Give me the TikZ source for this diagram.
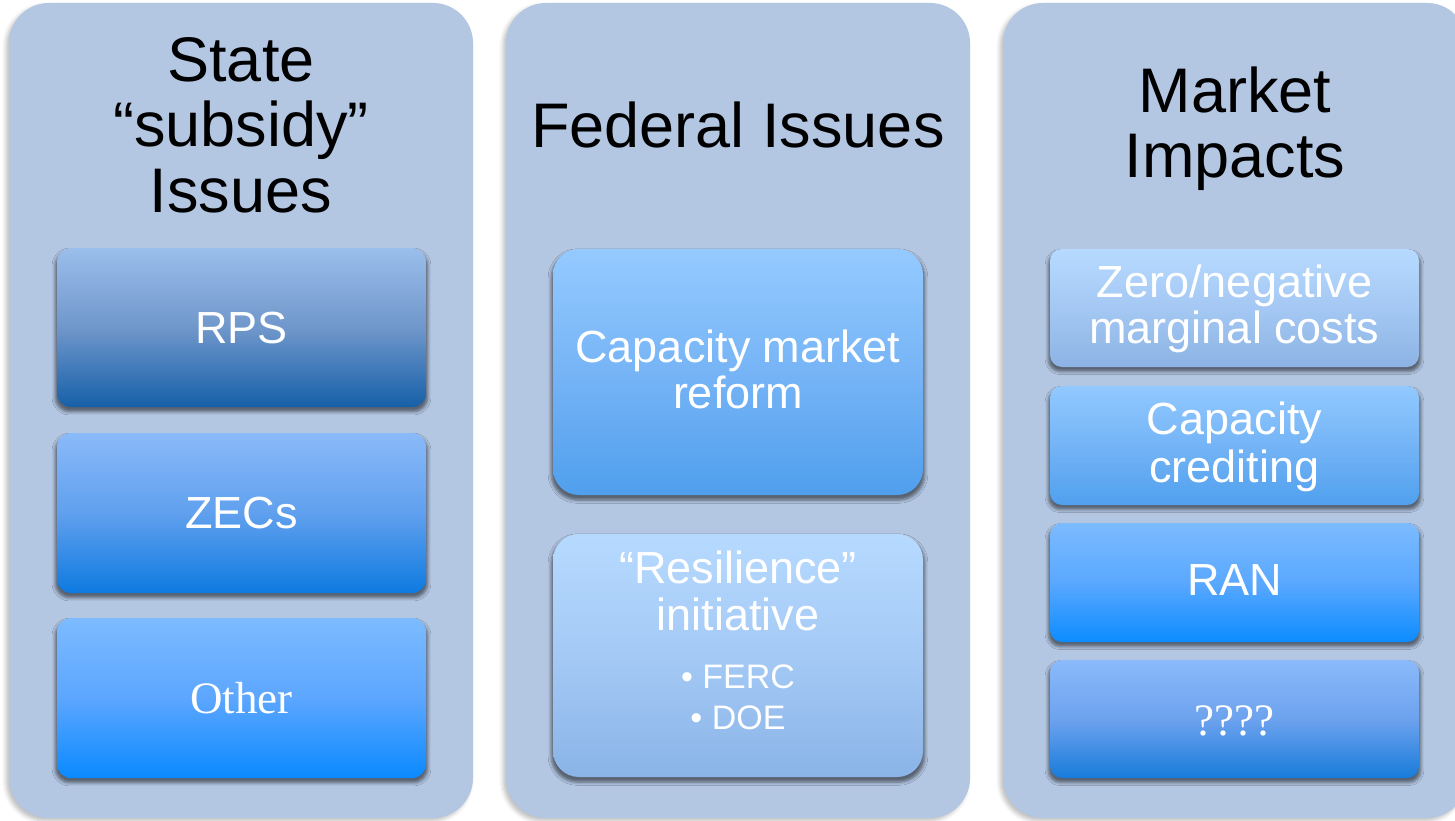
\documentclass[tikz,border=0pt]{standalone}
\usepackage{fontspec}
\setmainfont{Liberation Sans}
\newfontfamily\timesfont{Liberation Serif}
\usetikzlibrary{shadows.blur}

\definecolor{panelfill}{HTML}{B3C6E2}

\begin{document}
\begin{tikzpicture}[x=1pt,y=-1pt,
  panel/.style={fill=panelfill, rounded corners=40pt, inner sep=0pt,
    minimum width=464pt, minimum height=815pt,
    blur shadow={shadow xshift=-3pt, shadow yshift=-3pt, shadow blur radius=4pt, shadow opacity=25}},
  card/.style={inner sep=0pt, minimum width=369pt,
    blur shadow={shadow xshift=0pt, shadow yshift=-4pt, shadow scale=1.01, shadow blur radius=3pt, shadow opacity=50}},
  title/.style={anchor=base, inner sep=0pt, text=black, font=\fontsize{63}{65}\selectfont},
  lbl/.style={anchor=base, inner sep=0pt, text=white, font=\fontsize{45}{46}\selectfont},
  serlbl/.style={lbl, font=\timesfont\fontsize{45}{46}\selectfont},
  bullet/.style={anchor=base, inner sep=0pt, text=white, font=\fontsize{34}{40}\selectfont},
]
\useasboundingbox (0,0) rectangle (1455,821);
\clip (0,0) rectangle (1455,821);

% three panels
\node[panel] (p1) at (241,410.5) {};
\node[panel] (p2) at (738,410.5) {};
\node[panel] (p3) at (1235,410.5) {};

% panel headings
\node[title] (t1a) at (241,82) {State};
\node[title] (t1b) at (241,147) {“subsidy”};
\node[title] (t1c) at (241,212) {Issues};
\node[title] (t2)  at (738,148) {Federal Issues};
\node[title] (t3a) at (1235,113) {Market};
\node[title] (t3b) at (1235,178) {Impacts};

% state column
\node[card, minimum height=159pt, rounded corners=14pt,
  top color={rgb,255:red,155;green,190;blue,235}, bottom color={rgb,255:red,22;green,96;blue,168},
  middle color={rgb,255:red,112;green,151;blue,203}] (rps) at (241.5,327.5) {};
\node[card, minimum height=160pt, rounded corners=14pt,
  top color={rgb,255:red,138;green,186;blue,249}, bottom color={rgb,255:red,14;green,122;blue,224},
  middle color={rgb,255:red,96;green,160;blue,238}] (zecs) at (241.5,513) {};
\node[card, minimum height=160pt, rounded corners=14pt,
  top color={rgb,255:red,124;green,187;blue,255}, bottom color={rgb,255:red,10;green,138;blue,255},
  middle color={rgb,255:red,92;green,166;blue,255}] (other) at (241.5,698) {};
\node[lbl] (rpsT) at (241.5,343) {RPS};
\node[lbl] (zecsT) at (241.5,528) {ZECs};
\node[serlbl] (otherT) at (241.5,713) {Other};

% federal column
\node[card, minimum width=370pt, minimum height=246pt, rounded corners=26pt,
  top color={rgb,255:red,148;green,202;blue,255}, bottom color={rgb,255:red,80;green,159;blue,237},
  middle color={rgb,255:red,118;green,180;blue,246}] (cap) at (738,372) {};
\node[card, minimum width=370pt, minimum height=243pt, rounded corners=26pt,
  top color={rgb,255:red,182;green,218;blue,255}, bottom color={rgb,255:red,138;green,180;blue,231},
  middle color={rgb,255:red,164;green,201;blue,245}] (res) at (738,655.5) {};
\node[lbl] (capT1) at (738,362) {Capacity market};
\node[lbl] (capT2) at (738,408) {reform};
\node[lbl] (resT1) at (738,583) {“Resilience”};
\node[lbl] (resT2) at (738,630) {initiative};
\node[bullet] (ferc) at (738,688) {• FERC};
\node[bullet] (doe) at (738,729) {• DOE};

% market column
\node[card, minimum height=118pt, rounded corners=12pt,
  top color={rgb,255:red,182;green,218;blue,255}, bottom color={rgb,255:red,140;green,179;blue,228},
  middle color={rgb,255:red,164;green,200;blue,243}] (zero) at (1234.5,308) {};
\node[card, minimum height=119pt, rounded corners=12pt,
  top color={rgb,255:red,146;green,201;blue,255}, bottom color={rgb,255:red,80;green,160;blue,238},
  middle color={rgb,255:red,116;green,180;blue,246}] (credit) at (1234.5,445.5) {};
\node[card, minimum height=119pt, rounded corners=12pt,
  top color={rgb,255:red,124;green,187;blue,255}, bottom color={rgb,255:red,12;green,140;blue,255},
  middle color={rgb,255:red,90;green,168;blue,255}] (ran) at (1234.5,582.5) {};
\node[card, minimum height=118pt, rounded corners=12pt,
  top color={rgb,255:red,138;green,186;blue,250}, bottom color={rgb,255:red,23;green,124;blue,218},
  middle color={rgb,255:red,109;green,162;blue,238}] (unk) at (1234.5,719) {};
\node[lbl] (zeroT1) at (1234.5,297) {Zero/negative};
\node[lbl] (zeroT2) at (1234.5,343) {marginal costs};
\node[lbl] (creditT1) at (1234.5,434) {Capacity};
\node[lbl] (creditT2) at (1234.5,482) {crediting};
\node[lbl] (ranT) at (1234.5,595) {RAN};
\node[serlbl] (unkT) at (1234.5,735) {????};
\end{tikzpicture}
\end{document}
